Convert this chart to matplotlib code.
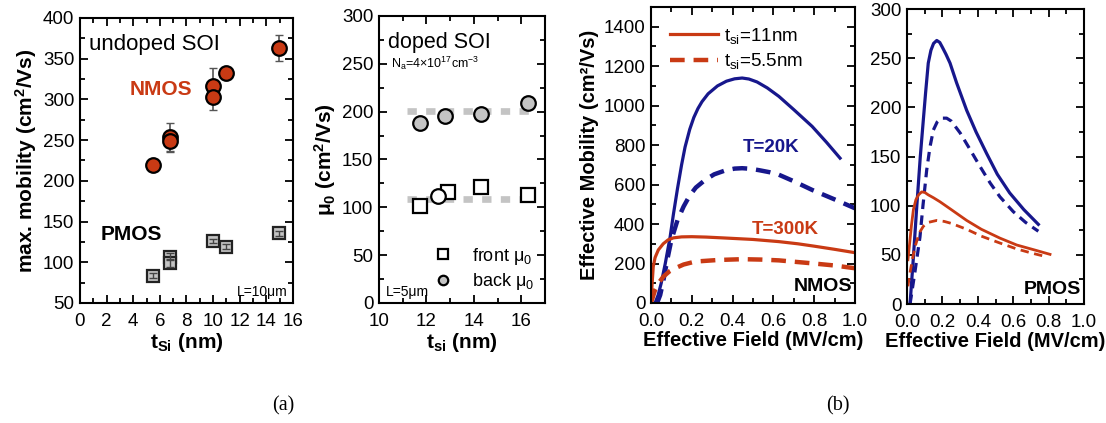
import matplotlib
matplotlib.use("Agg")
import matplotlib.pyplot as plt
from matplotlib.ticker import MultipleLocator

plt.rcParams['font.family'] = ['Liberation Sans', 'DejaVu Sans']
plt.rcParams['mathtext.fontset'] = 'custom'
plt.rcParams['mathtext.rm'] = 'Liberation Sans'
plt.rcParams['mathtext.it'] = 'Liberation Sans'
plt.rcParams['mathtext.bf'] = 'Liberation Sans:bold'

RED = '#c93a14'
BLUE = '#17178c'
GRAY = '#c4c4c4'

# (a) undoped SOI: max mobility vs t_Si
nmos_t = [5.46, 6.76, 6.76, 9.97, 9.97, 10.97, 14.97]
nmos_mu = [220, 254, 249, 317, 303, 332, 363]
nmos_err = [3, 17, 13, 22, 16, 4, 16]
pmos_t = [5.46, 6.76, 6.76, 9.97, 10.97, 14.97]
pmos_mu = [83.5, 107, 99, 126, 119, 135.5]
pmos_err = [3, 4, 5, 2, 3, 3]

# (a) doped SOI: mu0 vs t_si
back_t = [11.72, 12.78, 14.29, 16.3]
back_mu = [188, 195, 198, 209]
front_t = [11.72, 12.91, 14.29, 16.3]
front_mu = [101, 116, 121, 112.5]
extra_t = [12.49]
extra_mu = [112]
guide_t = [11.2, 16.35]
guide_hi = [201, 201]
guide_lo = [109, 109]

# (b) NMOS effective mobility vs effective field
n20_s_x = [0.02, 0.035, 0.05, 0.07, 0.094, 0.11, 0.13, 0.15, 0.167, 0.19, 0.21, 0.23, 0.25,
           0.28, 0.326, 0.37, 0.41, 0.447, 0.48, 0.52, 0.57, 0.627, 0.7, 0.79, 0.86, 0.927]
n20_s_y = [0, 40, 100, 200, 336, 450, 580, 700, 790, 880, 940, 985, 1020,
           1060, 1100, 1124, 1136, 1140, 1135, 1120, 1090, 1047, 980, 895, 815, 734]
n20_d_x = [0.03, 0.045, 0.06, 0.08, 0.10, 0.13, 0.16, 0.19, 0.22, 0.266, 0.31, 0.365, 0.41,
           0.447, 0.49, 0.53, 0.58, 0.627, 0.7, 0.79, 0.9, 1.0]
n20_d_y = [0, 40, 110, 220, 320, 420, 489, 545, 585, 624, 652, 672, 681,
           683, 680, 673, 663, 650, 617, 573, 525, 480]
n300_s_x = [0.0, 0.005, 0.011, 0.02, 0.036, 0.06, 0.084, 0.11, 0.15, 0.2, 0.27, 0.35, 0.5,
            0.627, 0.72, 0.8, 0.9, 1.0]
n300_s_y = [0, 90, 184, 230, 269, 300, 320, 330, 335, 336, 334, 330, 322,
            311, 300, 288, 272, 255]
n300_d_x = [0.0, 0.02, 0.04, 0.061, 0.09, 0.118, 0.16, 0.217, 0.33, 0.447, 0.54, 0.627,
            0.79, 0.9, 1.0]
n300_d_y = [0, 66, 105, 134, 160, 176, 195, 210, 218, 222, 220, 216, 201, 190, 176]

# (b) PMOS effective mobility vs effective field
p20_s_x = [0.017, 0.035, 0.055, 0.075, 0.092, 0.105, 0.12, 0.135, 0.15, 0.168, 0.185, 0.2,
           0.22, 0.243, 0.28, 0.337, 0.39, 0.45, 0.51, 0.58, 0.66, 0.742]
p20_s_y = [0, 45, 99, 150, 187, 215, 245, 258, 265, 268, 266, 261,
           254, 245, 225, 197, 175, 153, 132, 113, 96, 81]
p20_d_x = [0.017, 0.045, 0.073, 0.09, 0.111, 0.13, 0.149, 0.17, 0.195, 0.224, 0.25, 0.275,
           0.3, 0.35, 0.412, 0.47, 0.525, 0.6, 0.67, 0.742]
p20_d_y = [0, 33, 68, 100, 136, 160, 177, 185, 189, 189, 186, 180,
           174, 159, 140, 123, 109, 94, 83, 74]
p300_s_x = [0.005, 0.015, 0.025, 0.036, 0.05, 0.065, 0.083, 0.1, 0.12, 0.15, 0.186, 0.25,
            0.337, 0.42, 0.525, 0.62, 0.72, 0.808]
p300_s_y = [45, 62, 80, 96, 106, 111, 114, 113.5, 111, 108, 104, 96,
            85, 76, 67, 60, 55, 50.5]
p300_d_x = [0.005, 0.015, 0.03, 0.045, 0.06, 0.075, 0.092, 0.12, 0.168, 0.21, 0.25, 0.337,
            0.42, 0.525, 0.62, 0.7, 0.789]
p300_d_y = [18, 30, 45, 58, 67, 74, 79, 83, 85, 84, 82, 76, 69, 62, 56, 52, 48]


def style_axes(ax, xmaj, xmin, ymaj, ymin):
    ax.xaxis.set_major_locator(MultipleLocator(xmaj))
    ax.xaxis.set_minor_locator(MultipleLocator(xmin))
    ax.yaxis.set_major_locator(MultipleLocator(ymaj))
    ax.yaxis.set_minor_locator(MultipleLocator(ymin))
    ax.tick_params(which='both', direction='in', top=True, right=True,
                   width=1.3, labelsize=13.5, colors='black')
    ax.tick_params(which='major', length=6)
    ax.tick_params(which='minor', length=3.5)
    ax.tick_params(axis='x', which='major', pad=7)
    ax.tick_params(axis='y', which='major', pad=4)
    for s in ax.spines.values():
        s.set_linewidth(1.5)


fig = plt.figure(figsize=(11.06, 4.23), dpi=100)

# ---- panel 1 ----
ax1 = fig.add_axes([0.0723, 0.2837, 0.1926, 0.6738])
ax1.errorbar(nmos_t, nmos_mu, yerr=nmos_err, fmt='none', ecolor='#555555',
             elinewidth=1.2, capsize=3, zorder=2)
ax1.plot(nmos_t, nmos_mu, 'o', color=RED, mec='black', mew=1.6, ms=10.5, zorder=3)
ax1.plot(pmos_t, pmos_mu, 's', color=GRAY, mec='#222222', mew=1.6, ms=9, zorder=3)
ax1.errorbar(pmos_t, pmos_mu, yerr=pmos_err, fmt='none', ecolor='#444444',
             elinewidth=1.0, capsize=3, zorder=4)
ax1.set_xlim(0, 16)
ax1.set_ylim(50, 400)
style_axes(ax1, 2, 1, 50, 25)
ax1.set_xlabel(r'$\mathbf{t_{Si}}$ (nm)', fontsize=15, fontweight='bold', labelpad=1)
ax1.set_ylabel(r'max. mobility (cm$^\mathbf{2}$/Vs)', fontsize=15, fontweight='bold', labelpad=3)
ax1.text(0.7, 368, 'undoped SOI', fontsize=16, va='center')
ax1.text(6.1, 312, 'NMOS', fontsize=15, fontweight='bold', color=RED, ha='center', va='center')
ax1.text(3.85, 134, 'PMOS', fontsize=15, fontweight='bold', color='black', ha='center', va='center')
ax1.text(15.6, 55, 'L=10μm', fontsize=10, ha='right', va='bottom')

# ---- panel 2 ----
ax2 = fig.add_axes([0.3427, 0.2837, 0.1501, 0.6785])
ax2.plot(guide_t, guide_hi, color=GRAY, lw=4.8, dashes=(1.4, 1.4), dash_capstyle='butt', zorder=1)
ax2.plot(guide_t, guide_lo, color=GRAY, lw=4.8, dashes=(1.4, 1.4), dash_capstyle='butt', zorder=1)
ax2.plot(front_t, front_mu, 's', color='white', mec='black', mew=1.6, ms=10, zorder=3,
         label='front μ$_0$')
ax2.plot(back_t, back_mu, 'o', color=GRAY, mec='black', mew=1.6, ms=10.5, zorder=3,
         label='back μ$_0$')
ax2.plot(extra_t, extra_mu, 'o', color='white', mec='black', mew=1.6, ms=10.5, zorder=3)
ax2.set_xlim(10, 17)
ax2.set_ylim(0, 300)
style_axes(ax2, 2, 1, 50, 25)
ax2.set_xlabel(r'$\mathbf{t_{si}}$ (nm)', fontsize=15, fontweight='bold', labelpad=1)
ax2.set_ylabel('μ$_\\mathbf{0}$ (cm$^\\mathbf{2}$/Vs)', fontsize=15, fontweight='bold', labelpad=3)
ax2.text(10.38, 272, 'doped SOI', fontsize=15.5, va='center')
ax2.text(10.5, 251, r'N$_a$=4×10$^{17}$cm$^{-3}$', fontsize=9, va='center')
ax2.text(10.3, 4, 'L=5μm', fontsize=10, va='bottom')
ax2.legend(loc='lower right', frameon=False, fontsize=13, markerscale=0.65,
           handletextpad=0.6, borderaxespad=0.2, labelspacing=0.25,
           bbox_to_anchor=(1.0, 0.0))

# ---- panel 3 ----
ax3 = fig.add_axes([0.5886, 0.2837, 0.1844, 0.6998])
ax3.plot(n20_s_x, n20_s_y, color=BLUE, lw=2.3)
ax3.plot(n20_d_x, n20_d_y, color=BLUE, lw=3.2, dashes=(3.3, 2.0))
ax3.plot(n300_s_x, n300_s_y, color=RED, lw=2.3, label=r't$_{si}$=11nm')
ax3.plot(n300_d_x, n300_d_y, color=RED, lw=3.2, dashes=(3.3, 2.0), label=r't$_{si}$=5.5nm')
ax3.set_xlim(0, 1.0)
ax3.set_ylim(0, 1500)
style_axes(ax3, 0.2, 0.1, 200, 100)
ax3.set_xlabel('Effective Field (MV/cm)', fontsize=14.5, fontweight='bold', labelpad=1)
ax3.set_ylabel('Effective Mobility (cm²/Vs)', fontsize=14.5, fontweight='bold', labelpad=3)
ax3.text(0.59, 790, 'T=20K', fontsize=13.5, fontweight='bold', color=BLUE, ha='center', va='center')
ax3.text(0.66, 372, 'T=300K', fontsize=13.5, fontweight='bold', color=RED, ha='center', va='center')
ax3.text(0.985, 40, 'NMOS', fontsize=14, fontweight='bold', ha='right', va='bottom')
ax3.legend(loc='upper left', frameon=False, fontsize=13.5, handlelength=2.6,
           handletextpad=0.3, borderaxespad=0.6, labelspacing=0.3)

# ---- panel 4 ----
ax4 = fig.add_axes([0.8201, 0.2813, 0.16, 0.6974])
ax4.plot(p20_s_x, p20_s_y, color=BLUE, lw=2.3)
ax4.plot(p20_d_x, p20_d_y, color=BLUE, lw=2.3, dashes=(3.0, 2.0))
ax4.plot(p300_s_x, p300_s_y, color=RED, lw=2.0)
ax4.plot(p300_d_x, p300_d_y, color=RED, lw=2.0, dashes=(3.0, 2.0))
ax4.set_xlim(0, 1.0)
ax4.set_ylim(0, 300)
style_axes(ax4, 0.2, 0.1, 50, 25)
ax4.set_xlabel('Effective Field (MV/cm)', fontsize=14.5, fontweight='bold', labelpad=1)
ax4.text(0.985, 6, 'PMOS', fontsize=14, fontweight='bold', ha='right', va='bottom')

fig.text(0.256, 0.04, '(a)', fontsize=14.5, family='Liberation Serif', ha='center', va='center')
fig.text(0.758, 0.04, '(b)', fontsize=14.5, family='Liberation Serif', ha='center', va='center')

fig.savefig('out.png', dpi=100)
